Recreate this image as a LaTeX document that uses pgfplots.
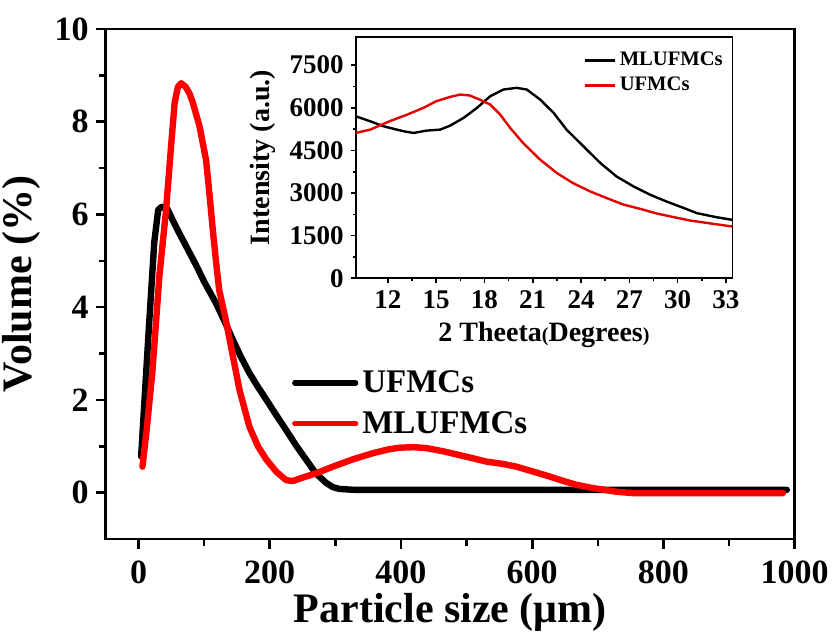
\documentclass[border=0pt]{standalone}
\usepackage{fontspec}
\setmainfont{Liberation Serif}
\usepackage{pgfplots}
\pgfplotsset{compat=1.18}
\begin{document}
\begin{tikzpicture}
\useasboundingbox (-52.85pt,-49pt) rectangle (367.15pt,269.5pt);
\begin{axis}[
  at={(0,0)}, anchor=south west,
  scale only axis, width=344.5pt, height=255pt,
  xmin=-50, xmax=1000, ymin=-1, ymax=10,
  xtick={0,200,...,1000}, ytick={0,2,...,10},
  minor x tick num=1, minor y tick num=1,
  tick pos=left, tick align=outside,
  major tick length=5pt, minor tick length=3.5pt,
  axis line style={line width=1.4pt},
  tick style={line width=1.3pt, black},
  tick label style={font=\fontsize{17}{17}\selectfont\bfseries},
  xticklabel style={yshift=-2.5pt},
  /pgf/number format/assume math mode=true,
  /pgf/number format/1000 sep={},
  xlabel={Particle size (μm)}, ylabel={Volume (\%)},
  label style={font=\fontsize{21}{21}\selectfont\bfseries},
  xlabel style={yshift=2pt},
  legend style={at={(0.27,0.266)}, anchor=west, draw=none, fill=none,
    font=\fontsize{16.5}{16.5}\selectfont\bfseries, row sep=4pt, inner sep=0pt,
    nodes={inner sep=2pt}},
  legend cell align=left,
  legend image code/.code={\draw[#1,line width=2.6pt] (0pt,0pt) -- (30.5pt,0pt);},
]
\addplot[black, line width=3.2pt, line join=round, line cap=round] coordinates {
(4,0.78) (10,2.2) (16,3.6) (24,5.4) (30,6.1) (36,6.17) (44,6.12) (52,5.88)
(62,5.6) (75,5.25) (88,4.9) (100,4.55) (118,4.09) (131,3.7) (144,3.29)
(156,2.93) (169,2.58) (182,2.28) (195,2.0) (210,1.67) (225,1.35) (240,1.02)
(256,0.70) (270,0.42) (286,0.21) (296,0.12) (306,0.08) (330,0.06) (500,0.06)
(700,0.06) (988,0.06)
};
\addlegendentry{UFMCs}
\addplot[red, line width=3.2pt, line join=round, line cap=round] coordinates {
(6,0.56) (12,1.3) (21,2.58) (32,4.7) (42,6.1) (50,7.54) (55,8.4) (60,8.75)
(65,8.83) (72,8.75) (78,8.6) (83,8.4) (93,7.9) (103,7.17) (108,6.46)
(113,5.7) (118,5.0) (123,4.37) (134,3.66) (144,2.93) (154,2.21) (169,1.42)
(182,1.0) (195,0.71) (210,0.45) (225,0.27) (235,0.25) (245,0.3) (271,0.42)
(296,0.56) (327,0.72) (357,0.85) (380,0.93) (398,0.97) (420,0.98) (439,0.96)
(465,0.89) (489,0.81) (510,0.74) (530,0.67) (555,0.62) (576,0.56)
(600,0.46) (626,0.35) (648,0.25) (667,0.17) (692,0.1) (710,0.06)
(728,0.02) (753,-0.01) (850,-0.01) (982,-0.01)
};
\addlegendentry{MLUFMCs}
\end{axis}
\begin{axis}[
  at={(125pt,130.35pt)}, anchor=south west,
  scale only axis, width=188.3pt, height=120.8pt,
  axis background/.style={fill=white},
  xmin=10, xmax=33.4, ymin=0, ymax=8500,
  xtick={12,15,...,33}, ytick={0,1500,...,7500},
  minor x tick num=1, minor y tick num=1,
  tick pos=left, tick align=outside,
  major tick length=2.5pt, minor tick length=1.5pt,
  axis line style={line width=0.8pt},
  tick style={line width=0.8pt, black},
  tick label style={font=\fontsize{13.5}{13.5}\selectfont\bfseries},
  /pgf/number format/assume math mode=true,
  /pgf/number format/1000 sep={},
  scaled y ticks=false,
  xlabel={2 Theeta{\fontsize{10}{10}\selectfont(}Degrees{\fontsize{10}{10}\selectfont)}},
  ylabel={Intensity (a.u.)},
  label style={font=\fontsize{14}{14}\selectfont\bfseries},
  legend style={at={(0.604,0.85)}, anchor=west, draw=none, fill=none,
    font=\fontsize{10.3}{10.3}\selectfont\bfseries, row sep=1pt, inner sep=0pt,
    nodes={inner sep=1.5pt}},
  legend cell align=left,
  legend image code/.code={\draw[#1,line width=1.6pt] (0pt,0pt) -- (15pt,0pt);},
]
\addplot[black, line width=1.2pt] coordinates {
(10.0,5701) (10.9,5525) (11.73,5349) (12.56,5231) (13.1,5160) (13.6,5114)
(14.4,5196) (15.25,5231) (15.87,5372) (16.7,5643) (17.53,5995) (18.36,6407)
(19.18,6642) (20.0,6701) (20.63,6642) (21.46,6289) (22.3,5819) (23.1,5231)
(24.15,4643) (25.2,4056) (26.2,3585) (27.26,3233) (28.3,2939) (29.3,2704)
(30.4,2469) (31.2,2292) (32.4,2151) (33.4,2057)
};
\addlegendentry{MLUFMCs}
\addplot[red!90!black, line width=1.2pt] coordinates {
(10.0,5114) (10.9,5231) (12.1,5525) (13.2,5760) (14.2,5995) (15.0,6230)
(15.87,6383) (16.5,6466) (17.1,6430) (17.7,6289) (18.36,6113) (18.98,5760)
(19.6,5290) (20.4,4761) (21.46,4173) (22.5,3703) (23.5,3350) (24.57,3056)
(25.6,2821) (26.6,2600) (27.7,2440) (28.7,2280) (29.7,2160) (30.8,2030)
(31.8,1950) (33.4,1822)
};
\addlegendentry{UFMCs}
\end{axis}
\end{tikzpicture}
\end{document}
